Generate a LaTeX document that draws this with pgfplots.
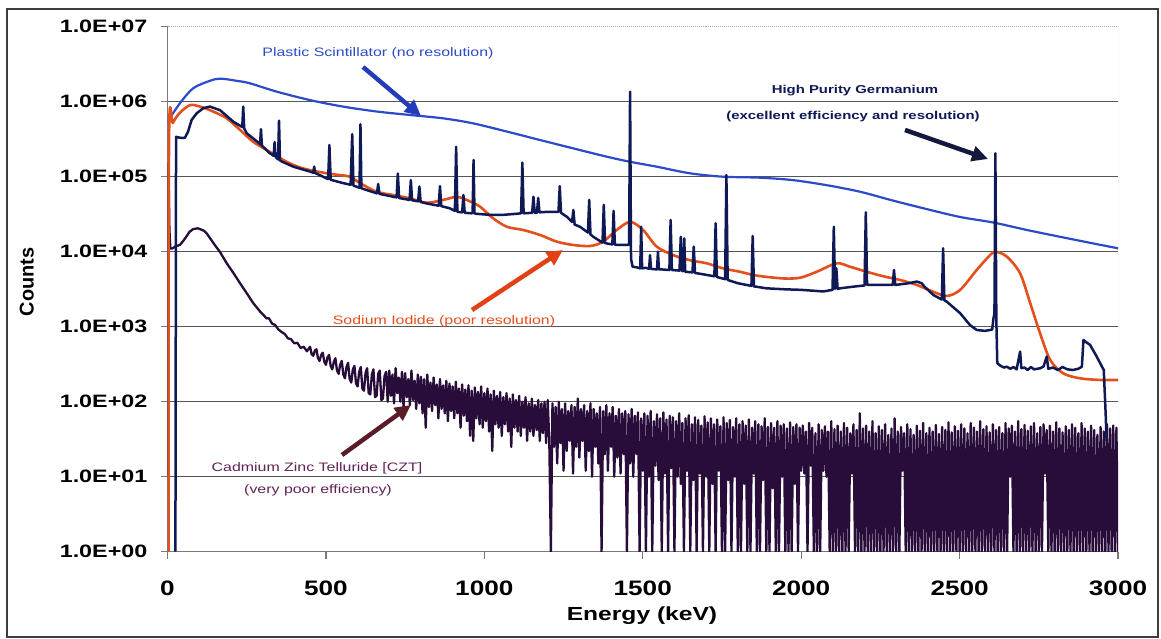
\documentclass[border=0pt]{standalone}
\usepackage{fontspec}
\setmainfont{Liberation Sans}
\newfontfamily\widefont[FakeStretch=1.3]{Liberation Sans}
\newfontfamily\tickfont[FakeStretch=1.25]{Liberation Sans}
\usepackage{pgfplots}
\pgfplotsset{compat=1.18}
\usetikzlibrary{arrows.meta}

\definecolor{plasticblue}{RGB}{45,75,200}
\definecolor{hpgenavy}{RGB}{15,25,85}
\definecolor{naiorange}{RGB}{228,80,28}
\definecolor{cztpurple}{RGB}{40,12,58}
\definecolor{gridgray}{RGB}{85,85,90}
\definecolor{axisgray}{RGB}{120,120,125}
\definecolor{frameclr}{RGB}{60,60,65}
\definecolor{cztlabel}{RGB}{95,35,85}
\definecolor{arrowblue}{RGB}{35,60,185}
\definecolor{arrownavy}{RGB}{20,25,60}
\definecolor{arroworange}{RGB}{225,65,20}
\definecolor{arrowmaroon}{RGB}{90,28,40}

\begin{document}
\begin{tikzpicture}
\useasboundingbox (0,0) rectangle (1161bp,639bp);
\fill[white] (0,0) rectangle (1161bp,639bp);
\draw[frameclr, line width=1.5bp] (7bp,2bp) rectangle (1158bp,630bp);

\begin{axis}[
  at={(167.5bp,87.3bp)}, anchor=south west,
  scale only axis, width=950.5bp, height=525bp,
  xmin=0, xmax=3000, ymode=log, ymin=1, ymax=1e7,
  xtick={0,500,...,3000},
  xticklabels={0,500,1000,1500,2000,2500,3000},
  ytick={1,10,100,1000,10000,100000,1000000,10000000},
  yticklabels={1.0E+00,1.0E+01,1.0E+02,1.0E+03,1.0E+04,1.0E+05,1.0E+06,1.0E+07},
  yminorticks=false, xminorticks=false,
  axis x line*=bottom, axis y line*=left,
  axis line style={-, draw=axisgray, line width=1.3bp},
  tick align=outside, major tick length=7bp,
  tick style={axisgray, line width=1.2bp},
  ymajorgrids, major grid style={gridgray, line width=1.1bp},
  yticklabel style={font=\widefont\bfseries\fontsize{18}{18}\selectfont, anchor=east, inner sep=0pt, xshift=-13bp},
  xticklabel style={font=\tickfont\bfseries\fontsize{21}{21}\selectfont, anchor=north, inner sep=0pt, yshift=-22bp},
  line join=round,
]

% Plastic scintillator: smooth, no peaks
\addplot[plasticblue, line width=2.2bp, smooth] coordinates {
(0,5.4e5)(39,9.5e5)(81,1.51e6)(134,1.9e6)(166,2.03e6)(218,1.9e6)(260,1.76e6)
(345,1.36e6)(450,1.05e6)(554,8.6e5)(660,7.4e5)(765,6.65e5)(870,6.0e5)(964,5.15e5)
(1071,4.0e5)(1176,3.08e5)(1280,2.39e5)(1386,1.85e5)(1460,1.58e5)(1544,1.36e5)
(1649,1.11e5)(1753,1.0e5)(1870,9.7e4)(1974,9.0e4)(2081,7.7e4)(2186,6.3e4)
(2290,4.8e4)(2396,3.7e4)(2502,2.9e4)(2606,2.45e4)(2712,1.95e4)(2817,1.58e4)
(2921,1.29e4)(3000,1.11e4)
};

% CZT: low-efficiency detector, noisy at high energy
\addplot[cztpurple, line width=2.3bp] coordinates {
(2,10)(3,1.5e5)(6,2e4)(9,1.1e4)(15,1.1e4)(24,1.17e4)(39,1.23e4)(50,1.4e4)(60,1.6e4)
(70,1.85e4)(81,2.0e4)(95,2.05e4)(103,2.0e4)(115,1.9e4)(124,1.75e4)(135,1.5e4)
(145,1.3e4)(165,1.0e4)(187,7.0e3)(208,5.2e3)(229,3.8e3)(250,2.8e3)(271,2.05e3)
(292,1.6e3)(313,1.29e3)(320,1.3e3)(330,1.1e3)(340,1.05e3)(350,920)(360,850)
(370,800)(380,700)(390,680)(400,600)(410,610)(420,520)(430,540)(440,470)
(450,540)(455,430)(460,410)(465,480)(470,500)(475,380)(480,350)(485,420)(490,450)
(495,340)(500,310)(505,390)(510,420)(515,300)(520,270)(525,340)(530,380)(535,260)
(540,235)(545,310)(550,350)(555,230)(560,205)(565,290)(570,330)(575,200)(580,180)
(585,270)(590,300)(595,175)(600,160)(605,250)(610,290)(615,150)(620,140)(625,240)
(630,280)(635,130)(640,125)(645,230)(650,270)(655,115)(660,120)(665,235)(670,260)
(675,105)(680,110)(685,220)(690,250)(695,100)
(700,260)(705,120)(710,230)(715,95)(720,280)(725,130)(730,210)(735,100)(740,250)
(745,85)(750,240)(755,115)(760,200)(765,90)(770,260)(775,105)(780,190)(785,80)
(790,230)(795,95)(800,215)(805,70)(810,200)(815,45)(820,230)(825,85)(830,180)
(835,75)(840,210)(845,90)(850,170)(855,60)(860,200)(865,80)(870,165)(875,70)
(880,190)(885,55)(890,175)(895,75)(900,160)(905,60)(910,185)(915,70)(920,150)
(925,45)(930,170)(935,65)(940,145)(945,55)(950,165)(955,35)(960,140)(965,30)
(970,155)(975,60)(980,135)(985,50)(990,160)(995,45)(1000,130)(1005,55)(1010,150)
(1015,40)(1020,125)(1025,22)(1030,140)(1035,50)(1040,120)(1045,45)(1050,135)
(1055,35)(1060,115)(1065,50)(1070,130)(1075,40)(1080,110)(1085,25)(1090,125)
(1095,45)(1100,105)(1105,40)(1110,120)(1115,35)(1120,100)(1125,45)(1130,115)
(1135,30)(1140,95)(1145,40)(1150,110)(1155,35)(1160,90)(1165,42)(1170,105)
(1175,30)(1180,95)(1185,38)(1190,100)(1195,28)
(1200,105)(1205,30)(1210,1)(1215,95)(1220,25)(1225,85)(1230,15)(1235,100)(1240,28)
(1245,80)(1250,12)(1255,95)(1260,22)(1265,75)(1270,30)(1275,90)(1280,11)(1285,85)
(1290,25)(1295,110)(1300,18)(1305,80)(1310,30)(1315,90)(1320,12)(1325,75)(1330,22)
(1335,95)(1340,10)(1345,80)(1350,25)(1355,70)(1360,15)(1365,85)(1370,1)(1375,75)
(1380,20)(1385,90)(1390,12)(1395,70)(1400,25)(1405,85)(1410,10)(1415,65)(1420,18)
(1425,80)(1430,11)(1435,70)(1440,20)(1445,75)(1450,1)(1455,68)(1460,15)(1465,80)
(1470,10)(1475,65)(1480,20)(1485,72)(1490,1)(1495,60)
(1500,12)(1505,70)(1510,1)(1515,65)(1520,10)(1525,75)(1530,1)(1535,55)(1540,14)
(1545,68)(1550,9)(1555,60)(1560,1)(1565,72)(1570,11)(1575,58)(1580,1)(1585,65)
(1590,13)(1595,62)(1600,1)(1605,55)(1610,10)(1615,70)(1620,8)(1625,52)(1630,1)
(1635,60)(1640,12)(1645,66)(1650,1)(1655,50)(1660,9)(1665,62)(1670,1)(1675,57)
(1680,11)(1685,48)(1690,1)(1695,64)(1700,10)(1705,53)(1710,1)(1715,60)(1720,8)
(1725,50)(1730,1)(1735,58)(1740,12)(1745,47)(1750,1)(1755,62)(1760,1)(1765,52)
(1770,9)(1775,57)(1780,1)(1785,46)(1790,10)(1795,60)(1800,1)(1805,50)(1810,1)
(1815,55)(1820,8)(1825,48)(1830,1)(1835,58)(1840,1)(1845,45)(1850,11)(1855,55)
(1860,1)(1865,50)(1870,1)(1875,47)(1880,9)(1885,60)(1890,1)(1895,46)(1900,1)
(1905,52)(1910,7)(1915,45)(1920,1)(1925,55)(1930,1)(1935,48)(1940,10)(1945,50)
(1950,1)(1955,44)(1960,1)(1965,53)(1970,1)(1975,46)(1980,8)(1985,50)(1990,1)(1995,45)
(2000,12)(2005,48)(2010,11)(2015,40)(2020,1)(2025,52)(2030,14)(2035,45)(2040,1)
(2045,38)(2050,1)(2055,50)(2060,1)(2065,42)(2070,12)(2075,47)(2080,10)(2085,40)
(2090,1)(2095,55)(2100,1)(2105,43)(2110,1)(2115,48)(2120,1)(2125,40)(2130,1)
(2135,52)(2140,1)(2145,45)(2150,1)(2155,38)(2160,11)(2165,50)(2170,1)(2175,42)
(2180,1)(2185,70)(2190,1)(2195,44)(2200,1)(2205,48)(2210,1)(2215,40)(2220,1)
(2225,55)(2230,1)(2235,38)(2240,1)(2245,47)(2250,1)(2255,42)(2260,1)(2265,50)
(2270,1)(2275,36)(2280,1)(2285,44)(2290,1)(2295,60)(2300,1)(2305,40)(2310,1)
(2315,46)(2320,12)(2325,38)(2330,1)(2335,50)(2340,1)(2345,43)(2350,1)(2355,36)
(2360,1)(2365,48)(2370,1)(2375,41)(2380,1)(2385,52)(2390,1)(2395,38)(2400,1)
(2405,45)(2410,1)(2415,40)(2420,1)(2425,49)(2430,1)(2435,37)(2440,1)(2445,46)
(2450,1)(2455,42)(2460,1)(2465,53)(2470,1)(2475,39)(2480,1)(2485,47)(2490,1)
(2495,41)(2500,1)(2505,50)(2510,1)(2515,44)(2520,1)(2525,38)(2530,1)(2535,52)
(2540,1)(2545,45)(2550,1)(2555,40)(2560,1)(2565,55)(2570,1)(2575,43)(2580,1)
(2585,47)(2590,1)(2595,39)(2600,1)(2605,50)(2610,1)(2615,42)(2620,1)(2625,46)
(2630,1)(2635,38)(2640,1)(2645,52)(2650,1)(2655,44)(2660,10)(2665,48)(2670,1)
(2675,40)(2680,1)(2685,55)(2690,1)(2695,43)(2700,1)(2705,49)(2710,1)(2715,41)
(2720,1)(2725,47)(2730,1)(2735,52)(2740,1)(2745,38)(2750,1)(2755,46)(2760,1)
(2765,50)(2770,11)(2775,42)(2780,1)(2785,48)(2790,1)(2795,40)(2800,1)(2805,53)
(2810,1)(2815,44)(2820,1)(2825,39)(2830,1)(2835,47)(2840,1)(2845,42)(2850,1)
(2855,50)(2860,1)(2865,45)(2870,1)(2875,38)(2880,1)(2885,52)(2890,1)(2895,44)
(2900,1)(2905,40)(2910,1)(2915,48)(2920,1)(2925,42)(2930,1)(2935,36)(2940,1)
(2945,46)(2950,1)(2955,40)(2960,1)(2965,50)(2970,1)(2975,44)(2980,1)(2985,48)
(2990,1)(2995,45)(3000,1)
};

% Sodium iodide: broad peaks
\addplot[naiorange, line width=2.6bp, smooth] coordinates {
(3,1)(5,3.4e5)(17,5.2e5)(39,7.1e5)(71,9.0e5)(103,8.6e5)(144,7.4e5)(187,6.0e5)
(229,4.2e5)(270,2.93e5)(313,2.27e5)(376,1.58e5)(428,1.29e5)(502,1.11e5)(545,1.05e5)
(576,1.0e5)(608,8.2e4)(660,6.3e4)(712,5.7e4)(765,5.15e4)(818,4.5e4)(870,4.9e4)
(913,5.4e4)(944,4.9e4)(986,4.0e4)(1027,2.8e4)(1071,2.15e4)(1122,1.95e4)(1176,1.67e4)
(1229,1.36e4)(1280,1.23e4)(1334,1.19e4)(1375,1.36e4)(1418,1.95e4)(1460,2.5e4)
(1501,1.95e4)(1544,1.17e4)(1596,9.0e3)(1649,7.7e3)(1702,7.0e3)(1753,6.0e3)
(1807,5.4e3)(1860,4.8e3)(1943,4.4e3)(1997,4.5e3)(2049,5.4e3)(2112,7.0e3)(2154,6.3e3)
(2207,5.4e3)(2259,4.7e3)(2312,4.2e3)(2365,3.6e3)(2416,2.93e3)(2460,2.57e3)(2502,3.1e3)
(2554,5.7e3)(2596,9.0e3)(2614,1.0e4)(2649,8.6e3)(2691,5.15e3)(2723,2.05e3)(2754,817)
(2786,360)(2827,239)(2880,205)(2943,195)(3000,195)
};

% High purity germanium: sharp peaks on the continuum
\addplot[hpgenavy, line width=2.5bp] coordinates {
(25,1)(27,3.4e5)(40,3.3e5)(55,3.3e5)(65,4.0e5)(76,5.7e5)(92,7.0e5)(113,8.2e5)
(134,8.6e5)(166,7.7e5)(208,5.4e5)
(232,4.7e5)(236,4.6e5)(239,8.6e5)(242,4.4e5)(250,3.8e5)
(289,2.8e5)(292,2.7e5)(295,4.3e5)(298,2.6e5)(320,2.1e5)
(335,1.9e5)(338,2.9e5)(341,1.85e5)
(346,1.75e5)(349,1.7e5)(352,5.6e5)(355,1.65e5)(360,1.6e5)
(397,1.36e5)(450,1.17e5)
(460,1.13e5)(463,1.36e5)(466,1.12e5)(502,9.5e4)
(507,9.3e4)(511,2.65e5)(515,9.1e4)(555,8.2e4)
(578,7.8e4)(583,3.7e5)(587,7.6e4)
(603,7.2e4)(606,7.1e4)(609,5.0e5)(612,7.0e4)(640,6.4e4)
(661,6.0e4)(665,8.0e4)(669,5.9e4)(713,5.4e4)
(723,5.3e4)(727,1.1e5)(731,5.2e4)
(764,4.9e4)(768,9.0e4)(772,4.85e4)
(791,4.7e4)(795,7.4e4)(799,4.6e4)(818,4.4e4)
(856,4.1e4)(860,7.5e4)(864,4.05e4)(890,3.8e4)
(907,3.5e4)(911,2.5e5)(915,3.4e4)
(930,3.35e4)(934,5.7e4)(938,3.3e4)
(960,3.25e4)(963,3.3e4)(966,1.67e5)(969,3.25e4)(975,3.2e4)
(1018,3.1e4)(1060,3.1e4)(1100,3.2e4)
(1116,3.25e4)(1120,1.54e5)(1124,3.25e4)
(1151,3.3e4)(1155,5.4e4)(1159,3.3e4)
(1166,3.3e4)(1170,5.2e4)(1174,3.35e4)(1200,3.4e4)
(1234,3.4e4)(1238,7.5e4)(1242,3.3e4)(1260,2.93e4)
(1277,2.5e4)(1281,3.6e4)(1285,2.3e4)(1302,2.15e4)
(1327,1.8e4)(1331,4.9e4)(1335,1.7e4)(1344,1.58e4)
(1373,1.32e4)(1377,4.2e4)(1381,1.3e4)(1386,1.29e4)
(1404,1.25e4)(1408,3.5e4)(1412,1.24e4)(1428,1.23e4)(1455,1.23e4)
(1457,1.3e4)(1460,1.36e6)(1463,8.0e3)(1468,6.3e3)(1480,6.2e3)
(1492,6.0e3)(1495,2.15e4)(1498,6.0e3)(1510,6.1e3)
(1520,5.9e3)(1523,9e3)(1526,5.9e3)
(1545,5.8e3)(1548,1.0e4)(1551,5.8e3)(1560,5.8e3)
(1584,5.7e3)(1588,2.65e4)(1592,5.7e3)
(1616,5.6e3)(1620,1.58e4)(1624,5.5e3)
(1628,5.5e3)(1631,1.5e4)(1634,5.4e3)
(1657,5.3e3)(1661,1.17e4)(1665,5.2e3)(1690,5.0e3)
(1726,4.7e3)(1730,2.4e4)(1734,4.6e3)
(1760,4.3e3)(1764,1.05e5)(1768,4.2e3)(1800,3.8e3)
(1843,3.5e3)(1847,1.62e4)(1851,3.45e3)
(1890,3.25e3)(1950,3.15e3)(2000,3.1e3)(2070,2.95e3)
(2099,3.1e3)(2103,2.15e4)(2107,3.2e3)(2111,6e3)(2115,3.2e3)
(2123,3.25e3)(2160,3.4e3)
(2200,3.55e3)(2204,3.35e4)(2208,3.6e3)(2250,3.6e3)
(2289,3.6e3)(2293,5.7e3)(2297,3.6e3)
(2340,3.8e3)(2365,4.0e3)(2380,3.8e3)(2390,3.4e3)(2417,2.65e3)
(2444,2.3e3)(2448,1.11e4)(2452,2.25e3)
(2460,2.15e3)(2502,1.51e3)(2533,1.05e3)(2554,904)(2580,880)(2596,904)
(2603,920)(2607,1.3e3)(2610,1.5e3)(2613,2.05e5)(2616,1.2e3)(2619,325)
(2630,300)(2640,285)(2649,293)(2660,275)(2670,290)(2680,270)(2691,465)(2695,280)
(2705,285)(2715,265)(2725,290)(2735,270)(2754,279)(2765,295)(2775,400)(2780,275)
(2795,285)(2810,265)(2825,290)(2840,270)(2858,265)(2875,275)(2886,293)(2891,665)
(2900,620)(2912,570)(2933,398)(2950,290)(2955,265)(2961,70)(2964,30)
};

% light frame on the top and right of the plot area
\draw[white, line width=2bp] (rel axis cs:0,1) -- (rel axis cs:1,1);
\draw[axisgray!60, densely dotted, line width=1bp] (rel axis cs:0,1) -- (rel axis cs:1,1) -- (rel axis cs:1,0);
\end{axis}

% axis titles
\node[font=\bfseries\fontsize{20}{20}\selectfont, rotate=90] at (26.7bp,357bp) {Counts};
\node[font=\widefont\bfseries\fontsize{19}{19}\selectfont] at (642bp,23bp) {Energy (keV)};

% annotations
\begin{scope}[font=\widefont\fontsize{12.3}{14}\selectfont]
\node[text=plasticblue] at (378bp,586bp) {Plastic Scintillator (no resolution)};
\node[text=naiorange] at (444bp,318bp) {Sodium Iodide (poor resolution)};
\node[text=cztlabel] at (317bp,171bp) {Cadmium Zinc Telluride [CZT]};
\node[text=cztlabel] at (318bp,149bp) {(very poor efficiency)};
\end{scope}
\begin{scope}[font=\widefont\bfseries\fontsize{11.5}{14}\selectfont]
\node[text=hpgenavy] at (855bp,548bp) {High Purity Germanium};
\node[text=hpgenavy] at (853bp,522bp) {(excellent efficiency and resolution)};
\end{scope}

% arrows
\draw[arrowblue, line width=4.5bp, -{Triangle[length=16bp,width=15bp]}] (363bp,572bp) -- (421bp,523bp);
\draw[arrownavy, line width=4.5bp, -{Triangle[length=16bp,width=15bp]}] (905bp,509bp) -- (988bp,480bp);
\draw[arroworange, line width=4.5bp, -{Triangle[length=16bp,width=15bp]}] (472bp,329bp) -- (563bp,389bp);
\draw[arrowmaroon, line width=4.5bp, -{Triangle[length=16bp,width=15bp]}] (342bp,184bp) -- (411bp,234bp);
\end{tikzpicture}
\end{document}
